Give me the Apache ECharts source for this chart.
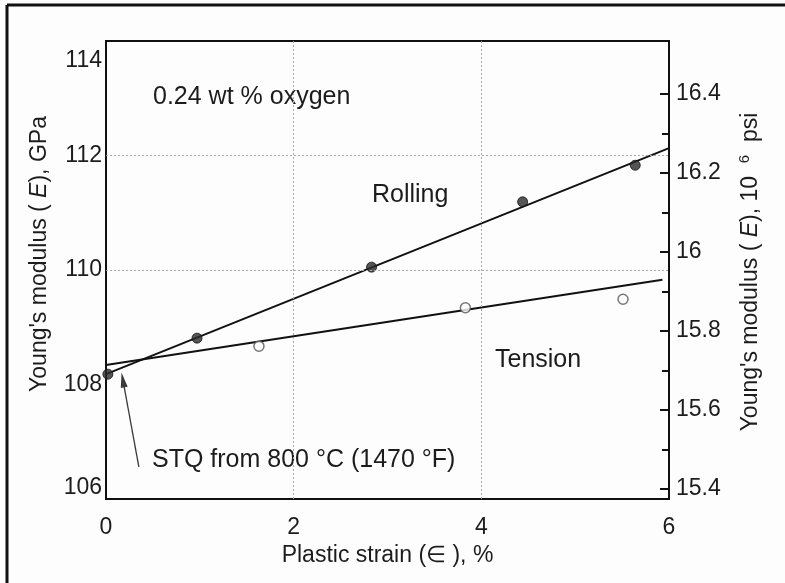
<!DOCTYPE html>
<html>
<head>
<meta charset="utf-8">
<title>Young's modulus vs plastic strain</title>
<script src="https://cdn.jsdelivr.net/npm/echarts@6/dist/echarts.min.js"></script>
<style>
  html, body { margin: 0; padding: 0; background: #fdfdfd; }
  #chart { width: 785px; height: 583px; }
</style>
</head>
<body>
<div id="chart"></div>
<script>
// Axis ticks
const strainTicks = [0, 2, 4, 6];
const gpaTicks = [106, 108, 110, 112, 114];
const psiTicks = [15.4, 15.6, 15.8, 16, 16.2, 16.4];
const psiMinorTicks = [15.5, 15.7, 15.9, 16.1, 16.3];

// Measured points: Young's modulus (GPa) against plastic strain (%)
const rollingStrain = [0.02, 0.97, 2.83, 4.44, 5.64];
const rollingModulus = [108.18, 108.81, 110.05, 111.19, 111.83];
const tensionStrain = [1.63, 3.83, 5.51];
const tensionModulus = [108.67, 109.34, 109.49];

// Straight-line fits
const rollingFitStrain = [0, 6];
const rollingFitModulus = [108.18, 112.13];
const tensionFitStrain = [0, 5.93];
const tensionFitModulus = [108.34, 109.83];

// Dotted reference lines
const gridStrain = [2, 4];
const gridModulus = [110, 112];

// Arrow pointing at the as-quenched point
const arrowTail = [0.35, 106.56];
const arrowHead = [0.18, 108.08];

// 1 GPa expressed in 10^6 psi
const GPA_TO_MSI = 0.145038;

const FONT = '"Liberation Sans", Arial, Helvetica, sans-serif';
const INK = '#1c1c1c';

const pairs = (xs, ys) => xs.map((x, i) => [x, ys[i]]);
const gpaMax = gpaTicks[gpaTicks.length - 1];

const chart = echarts.init(document.getElementById('chart'), null, { renderer: 'canvas' });

const option = {
  backgroundColor: '#fdfdfd',
  animation: false,
  textStyle: { fontFamily: FONT, color: INK },
  grid: {
    left: 106, right: 116, top: 41, bottom: 84,
    show: true, borderColor: '#111', borderWidth: 2, backgroundColor: 'transparent'
  },
  xAxis: {
    type: 'value',
    min: strainTicks[0], max: strainTicks[strainTicks.length - 1], interval: 2,
    name: 'Plastic strain (\u2208 ), %',
    nameLocation: 'middle', nameGap: 45,
    nameTextStyle: { fontFamily: FONT, fontSize: 23, color: INK },
    axisLine: { show: true, lineStyle: { color: '#111', width: 2 } },
    axisTick: { show: false },
    axisLabel: { fontFamily: FONT, fontSize: 23, color: INK, margin: 17 },
    splitLine: { show: false }
  },
  yAxis: [
    {
      type: 'value', position: 'left',
      min: gpaTicks[0], max: gpaMax, interval: 2,
      axisLine: { show: true, lineStyle: { color: '#111', width: 2 } },
      axisTick: { show: false },
      axisLabel: {
        fontFamily: FONT, fontSize: 23, color: INK, margin: 4,
        verticalAlignMinLabel: 'bottom', verticalAlignMaxLabel: 'top',
        formatter: v => (v === gpaMax ? '{top|' + v + '}' : String(v)),
        rich: { top: { fontFamily: FONT, fontSize: 23, color: INK, padding: [8, 0, 0, 0] } }
      },
      splitLine: { show: false }
    },
    {
      type: 'value', position: 'right',
      min: gpaTicks[0] * GPA_TO_MSI, max: gpaMax * GPA_TO_MSI,
      axisLine: { show: true, lineStyle: { color: '#111', width: 2 } },
      axisTick: { show: true, inside: true, length: 9, customValues: psiTicks,
        lineStyle: { color: '#111', width: 2 } },
      axisLabel: { show: true, customValues: psiTicks, fontFamily: FONT, fontSize: 23,
        color: INK, margin: 7, formatter: v => String(+v.toFixed(1)) },
      splitLine: { show: false }
    },
    {
      type: 'value', position: 'right', offset: 0,
      min: gpaTicks[0] * GPA_TO_MSI, max: gpaMax * GPA_TO_MSI,
      axisLine: { show: false },
      axisTick: { show: true, inside: true, length: 7, customValues: psiMinorTicks,
        lineStyle: { color: '#111', width: 2 } },
      axisLabel: { show: false },
      splitLine: { show: false }
    }
  ],
  series: [
    {
      name: 'Rolling fit', type: 'line', data: pairs(rollingFitStrain, rollingFitModulus),
      showSymbol: false, symbol: 'none', lineStyle: { color: '#111', width: 2 }, z: 3,
      markLine: {
        silent: true, symbol: ['none', 'none'], label: { show: false },
        lineStyle: { color: '#a8a8a8', type: [2, 2], width: 1 },
        data: gridModulus.map(v => ({ yAxis: v })).concat(gridStrain.map(v => ({ xAxis: v })))
      }
    },
    {
      name: 'Tension fit', type: 'line', data: pairs(tensionFitStrain, tensionFitModulus),
      showSymbol: false, symbol: 'none', lineStyle: { color: '#111', width: 2 }, z: 3,
      markLine: {
        silent: true, symbol: ['none', 'triangle'], symbolSize: 12, label: { show: false },
        lineStyle: { color: '#3a3a3a', type: 'solid', width: 1.3 },
        itemStyle: { color: '#222' },
        data: [[
          { coord: arrowTail, symbol: 'none' },
          { coord: arrowHead, symbol: 'triangle', symbolSize: [7, 15] }
        ]]
      }
    },
    {
      name: 'Rolling', type: 'scatter', data: pairs(rollingStrain, rollingModulus),
      symbol: 'circle', symbolSize: 10,
      itemStyle: { color: '#2a2a2a', borderColor: '#111', borderWidth: 1 }, z: 4
    },
    {
      name: 'Tension', type: 'scatter', data: pairs(tensionStrain, tensionModulus),
      symbol: 'circle', symbolSize: 10,
      itemStyle: { color: '#fdfdfd', borderColor: '#555', borderWidth: 1.5 }, z: 4
    }
  ],
  graphic: [
    // outer frame
    { type: 'line', shape: { x1: 7, y1: 5, x2: 7, y2: 583 }, style: { stroke: '#111', lineWidth: 3 }, silent: true },
    { type: 'line', shape: { x1: 7, y1: 5, x2: 785, y2: 5 }, style: { stroke: '#111', lineWidth: 3 }, silent: true },
    // left axis title
    {
      type: 'text', x: 40, y: 254, rotation: Math.PI / 2, silent: true,
      style: {
        text: "Young's modulus ( {i|E}), GPa",
        rich: { i: { fontStyle: 'italic', fontFamily: FONT, fontSize: 23, fill: INK } },
        fontFamily: FONT, fontSize: 23, fill: INK, align: 'center', verticalAlign: 'middle'
      }
    },
    // right axis title
    {
      type: 'text', x: 751, y: 272, rotation: Math.PI / 2, silent: true,
      style: {
        text: "Young's modulus ( {i|E}), 10  {sup|6}  psi",
        rich: {
          i: { fontStyle: 'italic', fontFamily: FONT, fontSize: 23, fill: INK },
          sup: { fontFamily: FONT, fontSize: 15, fill: INK, verticalAlign: 'top', padding: [0, 0, 12, 0] }
        },
        fontFamily: FONT, fontSize: 23, fill: INK, align: 'center', verticalAlign: 'middle'
      }
    },
    // annotations
    { type: 'text', x: 153, y: 97, silent: true,
      style: { text: '0.24 wt % oxygen', fontFamily: FONT, fontSize: 25, fill: INK, verticalAlign: 'middle' } },
    { type: 'text', x: 372, y: 195, silent: true,
      style: { text: 'Rolling', fontFamily: FONT, fontSize: 25, fill: INK, verticalAlign: 'middle' } },
    { type: 'text', x: 495, y: 360, silent: true,
      style: { text: 'Tension', fontFamily: FONT, fontSize: 25, fill: INK, verticalAlign: 'middle' } },
    { type: 'text', x: 152, y: 460, silent: true,
      style: { text: 'STQ from 800 \u00B0C (1470 \u00B0F)', fontFamily: FONT, fontSize: 25, fill: INK, verticalAlign: 'middle' } }
  ]
};

chart.setOption(option);
</script>
</body>
</html>
